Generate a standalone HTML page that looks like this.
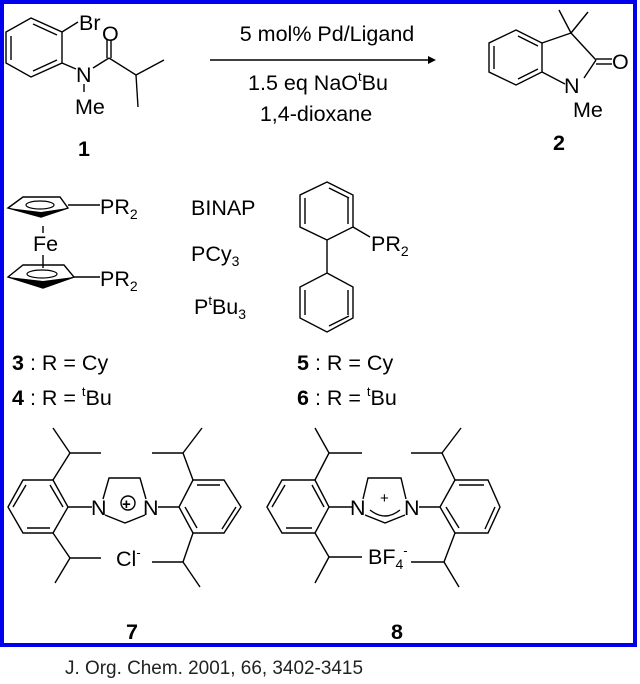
<!DOCTYPE html>
<html><head><meta charset="utf-8"><style>
html,body{margin:0;padding:0;background:#fff;width:640px;height:684px;overflow:hidden}
svg{display:block}
text{font-family:"Liberation Sans",Arial,sans-serif;fill:#000}
</style></head><body>
<svg width="640" height="684" viewBox="0 0 640 684" xmlns="http://www.w3.org/2000/svg">
<rect x="2" y="2" width="633" height="643" fill="#fff" stroke="#0000ee" stroke-width="4"/>
<g stroke="#000" stroke-width="1.4" fill="none">
<polygon points="31,18 62,32 62,63 31,77 6,63 6,32"/>
<line x1="11" y1="36" x2="11" y2="60"/><line x1="33" y1="24" x2="57" y2="35"/><line x1="33" y1="71" x2="57" y2="60"/>
<line x1="62" y1="32" x2="78" y2="22"/>
<line x1="62" y1="63" x2="76" y2="69"/>
<line x1="93" y1="68" x2="109" y2="58"/>
<line x1="107" y1="58" x2="107" y2="40"/><line x1="111" y1="58" x2="111" y2="40"/>
<line x1="109" y1="58" x2="136" y2="75"/><line x1="136" y1="75" x2="164" y2="60"/><line x1="136" y1="75" x2="138" y2="107"/>
<line x1="84" y1="84" x2="84" y2="92"/>
<line x1="210" y1="60" x2="428" y2="60"/>
<polygon points="516,30 542,43 542,72 516,85 489,72 489,43"/>
<line x1="494" y1="46" x2="494" y2="69"/><line x1="518" y1="36" x2="538" y2="46"/><line x1="518" y1="79" x2="538" y2="69"/>
<line x1="542" y1="43" x2="571" y2="33"/><line x1="571" y1="33" x2="596" y2="60"/>
<line x1="596" y1="60" x2="584" y2="78"/><line x1="565" y1="84" x2="542" y2="72"/>
<line x1="596" y1="59" x2="612" y2="59"/><line x1="596" y1="64" x2="612" y2="64"/>
<line x1="571" y1="33" x2="559" y2="10"/><line x1="571" y1="33" x2="588" y2="12"/>
<line x1="68" y1="205" x2="100" y2="205"/>
<line x1="43" y1="226" x2="43" y2="233"/>
<line x1="43" y1="255" x2="43" y2="268"/>
<line x1="74" y1="277" x2="100" y2="277"/>
<polygon points="327,182 353,195 353,227 327,240 300,227 300,195"/>
<line x1="305" y1="198" x2="305" y2="224"/><line x1="348" y1="198" x2="348" y2="224"/><line x1="329" y1="188" x2="349" y2="198"/>
<line x1="353" y1="227" x2="370" y2="237"/>
<line x1="327" y1="240" x2="327" y2="273"/>
<polygon points="327,273 353,287 353,318 327,332 300,318 300,287"/>
<line x1="305" y1="290" x2="305" y2="315"/><line x1="348" y1="290" x2="348" y2="315"/><line x1="329" y1="326" x2="349" y2="316"/>
<polygon points="8,507 23,480 53,480 68,507 53,533 23,533"/>
<line x1="13" y1="507" x2="26" y2="485"/><line x1="27" y1="528" x2="50" y2="528"/><line x1="50" y1="485" x2="63" y2="507"/>
<line x1="68" y1="507" x2="92" y2="507"/>
<polyline points="103,499 109,478 140,478 146,499"/>
<polyline points="105,515 125,523 145,515"/>
<circle cx="128" cy="503" r="7"/>
<polygon points="193,480 224,480 241,507 224,533 193,533 179,507"/>
<line x1="197" y1="485" x2="220" y2="485"/><line x1="236" y1="507" x2="222" y2="529"/><line x1="197" y1="528" x2="185" y2="507"/>
<line x1="158" y1="507" x2="179" y2="507"/>
<polyline points="53,480 70,453 101,453"/><line x1="70" y1="453" x2="53" y2="428"/>
<polyline points="53,533 70,558 101,558"/><line x1="70" y1="558" x2="55" y2="583"/>
<polyline points="193,480 183,453 152,453"/><line x1="183" y1="453" x2="202" y2="428"/>
<polyline points="193,533 183,562 152,562"/><line x1="183" y1="562" x2="200" y2="587"/>
<polygon points="267,507 282,480 315,480 329,507 315,533 282,533"/>
<line x1="272" y1="507" x2="285" y2="485"/><line x1="286" y1="528" x2="312" y2="528"/><line x1="312" y1="485" x2="324" y2="507"/>
<line x1="329" y1="507" x2="352" y2="507"/>
<polyline points="363,499 368,478 401,478 406,499"/>
<polyline points="365,515 385,523 405,515"/>
<path d="M370,510 Q385,522 400,510"/>
<polygon points="455,480 488,480 500,507 488,533 455,533 440,507"/>
<line x1="459" y1="485" x2="484" y2="485"/><line x1="495" y1="507" x2="485" y2="529"/><line x1="459" y1="528" x2="446" y2="507"/>
<line x1="419" y1="507" x2="440" y2="507"/>
<polyline points="315,480 329,453 362,453"/><line x1="329" y1="453" x2="315" y2="428"/>
<polyline points="315,533 329,557 362,557"/><line x1="329" y1="557" x2="315" y2="583"/>
<polyline points="455,480 442,453 411,453"/><line x1="442" y1="453" x2="461" y2="428"/>
<polyline points="455,533 444,562 411,562"/><line x1="444" y1="562" x2="459" y2="587"/>
</g>
<polygon points="428,56 436,60 428,64" fill="#000"/>
<polygon points="8,208 23,197 60,197 68,208 41,217" fill="none" stroke="#000" stroke-width="1.4"/>
<polygon points="8,208 41,217 68,208 41,212" fill="#000"/>
<ellipse cx="40" cy="205" rx="14" ry="4" fill="none" stroke="#000" stroke-width="1.2"/>
<polygon points="8,277 23,265 64,265 74,277 43,288" fill="none" stroke="#000" stroke-width="1.4"/>
<polygon points="8,277 43,288 74,277 43,281" fill="#000"/>
<ellipse cx="42" cy="274" rx="15" ry="4" fill="none" stroke="#000" stroke-width="1.2"/>
<g font-size="21.5">
<text x="79" y="30">Br</text>
<text x="102" y="41">O</text>
<text x="76" y="82">N</text>
<text x="75" y="114">Me</text>
<text x="84" y="156" font-weight="bold" text-anchor="middle">1</text>
<text x="327" y="41" text-anchor="middle">5  mol% Pd/Ligand</text>
<text x="318" y="90" text-anchor="middle">1.5 eq NaO<tspan font-size="13" dy="-9">t</tspan><tspan dy="9">Bu</tspan></text>
<text x="316" y="121" text-anchor="middle">1,4-dioxane</text>
<text x="612" y="69">O</text>
<text x="564" y="93">N</text>
<text x="573" y="117">Me</text>
<text x="559" y="150" font-weight="bold" text-anchor="middle">2</text>
<text x="100" y="214">PR<tspan font-size="14" dy="5">2</tspan></text>
<text x="33" y="251">Fe</text>
<text x="100" y="286">PR<tspan font-size="14" dy="5">2</tspan></text>
<text x="191" y="215">BINAP</text>
<text x="191" y="261">PCy<tspan font-size="14" dy="5">3</tspan></text>
<text x="194" y="314">P<tspan font-size="13" dy="-9">t</tspan><tspan dy="9">Bu</tspan><tspan font-size="14" dy="5">3</tspan></text>
<text x="371" y="251">PR<tspan font-size="14" dy="5">2</tspan></text>
<text x="12" y="370"><tspan font-weight="bold">3</tspan> : R = Cy</text>
<text x="12" y="405"><tspan font-weight="bold">4</tspan> : R = <tspan font-size="13" dy="-9">t</tspan><tspan dy="9">Bu</tspan></text>
<text x="297" y="370"><tspan font-weight="bold">5</tspan> : R = Cy</text>
<text x="297" y="405"><tspan font-weight="bold">6</tspan> : R = <tspan font-size="13" dy="-9">t</tspan><tspan dy="9">Bu</tspan></text>
<text x="91" y="515">N</text>
<text x="143" y="515">N</text>
<text x="116" y="566">Cl<tspan font-size="13" dy="-9">-</tspan></text>
<text x="132" y="639" font-weight="bold" text-anchor="middle">7</text>
<text x="350" y="515">N</text>
<text x="404" y="515">N</text>
<text x="368" y="564">BF<tspan font-size="14" dy="5">4</tspan><tspan font-size="13" dy="-14">-</tspan></text>
<text x="397" y="639" font-weight="bold" text-anchor="middle">8</text>
</g>
<text x="122" y="509" font-size="15" font-weight="bold">+</text>
<text x="380" y="503" font-size="15">+</text>
<text x="65" y="674" font-size="19" textLength="298" lengthAdjust="spacingAndGlyphs" style="fill:#222">J. Org. Chem. 2001, 66, 3402-3415</text>
</svg>
</body></html>
